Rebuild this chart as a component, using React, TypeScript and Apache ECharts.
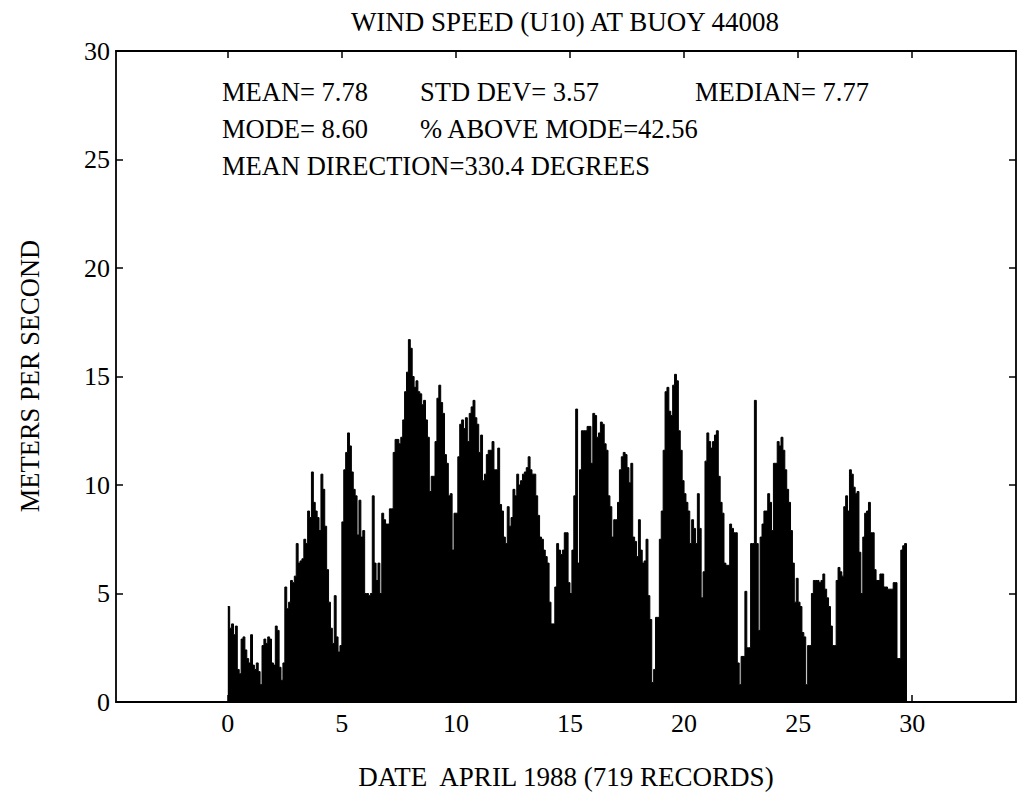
import React, { useEffect, useRef } from "react";
import * as echarts from "echarts";

// Wind speed (m/s), one value per 2 hours
const DAYS_00_04 = [
  4.4, 3.4, 3.6, 3.1, 3.5, 1.5, 1.3, 2.9, 3.0, 2.4, 2.0, 1.8,
  3.1, 1.7, 1.5, 1.8, 1.4, 0.8, 2.6, 2.9, 2.7, 3.0, 2.9, 1.8,
  1.7, 3.5, 3.3, 1.6, 1.0, 1.8, 5.3, 4.3, 4.6, 5.6, 5.5, 5.8,
  7.3, 6.4, 6.5, 6.6, 7.5, 7.3, 8.8, 8.5, 10.6, 9.2, 8.8, 8.5,
  7.9, 10.5, 9.8, 8.1, 6.1, 4.6, 3.4, 2.7, 4.9, 3.0, 2.3, 2.6,
];
const DAYS_05_09 = [
  8.3, 10.7, 11.5, 12.4, 11.8, 10.6, 9.8, 9.5, 7.7, 9.3, 7.6, 7.9,
  5.0, 5.0, 4.9, 5.0, 9.5, 6.4, 5.6, 6.4, 5.0, 8.7, 8.4, 8.2,
  8.2, 8.9, 8.9, 11.5, 12.1, 12.1, 11.9, 12.2, 13.0, 14.3, 15.2, 16.7,
  16.3, 15.0, 14.5, 14.8, 14.3, 14.2, 13.7, 13.9, 13.0, 12.2, 9.7, 10.4,
  10.4, 12.0, 14.0, 14.6, 13.8, 13.3, 11.4, 11.0, 9.5, 9.6, 7.0, 8.7,
];
const DAYS_10_14 = [
  8.7, 11.3, 12.8, 13.0, 12.6, 13.1, 12.0, 13.3, 13.6, 13.9, 13.1, 12.8,
  11.5, 12.3, 10.2, 10.5, 11.4, 11.6, 11.6, 12.0, 10.7, 10.7, 11.7, 9.1,
  8.8, 7.6, 7.3, 9.0, 8.1, 8.5, 9.8, 9.5, 10.5, 10.0, 10.2, 10.5,
  10.6, 10.8, 11.3, 10.7, 10.5, 10.5, 9.5, 8.6, 7.6, 7.5, 7.0, 6.7,
  6.4, 4.6, 3.6, 3.6, 5.3, 7.3, 7.0, 6.8, 7.0, 7.8, 7.8, 5.5,
];
const DAYS_15_19 = [
  5.0, 7.0, 9.5, 13.5, 6.4, 10.7, 12.5, 12.5, 12.5, 12.7, 12.7, 11.0,
  13.3, 13.2, 12.2, 12.4, 12.9, 12.8, 11.9, 11.6, 9.5, 9.0, 7.6, 8.4,
  8.4, 9.2, 10.7, 11.3, 11.5, 11.4, 10.8, 10.1, 11.0, 7.6, 7.4, 6.7,
  8.4, 7.0, 6.4, 6.5, 7.5, 4.9, 3.8, 0.9, 1.5, 3.9, 3.9, 7.5,
  8.8, 11.6, 14.3, 14.5, 13.4, 13.2, 14.6, 15.1, 14.8, 12.5, 11.6, 10.2,
];
const DAYS_20_24 = [
  9.6, 9.2, 8.8, 7.3, 8.4, 8.0, 7.3, 9.6, 8.0, 4.8, 6.0, 11.1,
  12.4, 12.0, 11.7, 12.0, 12.3, 12.5, 10.4, 9.2, 8.7, 6.4, 6.3, 6.3,
  8.2, 8.0, 7.8, 7.8, 1.8, 0.8, 2.1, 2.1, 5.1, 2.5, 2.5, 7.3,
  7.3, 13.9, 7.3, 3.3, 7.6, 8.2, 8.8, 8.8, 9.6, 9.2, 7.9, 11.0,
  11.0, 12.0, 11.8, 12.2, 11.6, 10.7, 9.8, 9.2, 7.9, 6.4, 4.6, 5.7,
];
const DAYS_25_29 = [
  4.6, 4.4, 3.2, 3.0, 0.8, 2.6, 2.6, 5.0, 5.6, 5.6, 5.6, 5.5,
  5.6, 5.9, 5.2, 4.8, 4.4, 3.5, 2.6, 2.6, 5.6, 6.2, 6.0, 5.8,
  9.0, 9.5, 8.8, 10.7, 10.5, 9.9, 9.6, 9.7, 6.9, 5.0, 7.6, 8.7,
  8.8, 9.2, 7.8, 7.8, 6.1, 5.6, 5.6, 5.9, 5.9, 5.3, 5.3, 5.2,
  5.2, 5.2, 5.5, 5.5, 2.0, 2.0, 7.0, 7.2, 7.3,
];
const RECORDS_PER_DAY = 12;
const X_TICKS = [0, 5, 10, 15, 20, 25, 30];

const TITLE = "WIND SPEED (U10) AT BUOY 44008";
const X_NAME = "DATE  APRIL 1988 (719 RECORDS)";
const Y_NAME = "METERS PER SECOND";
const STATS_ROW1 = ["MEAN= 7.78", "STD DEV= 3.57", "MEDIAN= 7.77"];
const STATS_ROW2 = ["MODE= 8.60", "% ABOVE MODE=42.56"];
const STATS_ROW3 = ["MEAN DIRECTION=330.4 DEGREES"];

const FONT = "'Liberation Serif', 'Times New Roman', serif";
const FS_TICK = 26;
const FS_STATS = 26.5;
const FS_TITLE = 27;

export default function App() {
  const ref = useRef<HTMLDivElement>(null);
  useEffect(() => {
    if (!ref.current) return;
    const chart = echarts.init(ref.current, undefined, { renderer: "svg" });
    const values = [
      ...DAYS_00_04,
      ...DAYS_05_09,
      ...DAYS_10_14,
      ...DAYS_15_19,
      ...DAYS_20_24,
      ...DAYS_25_29,
    ];
    const pts: number[][] = values.map((v, i) => [i / RECORDS_PER_DAY, v]);
    pts.push([values.length / RECORDS_PER_DAY, 0]);

    const txt = (x: number, y: number, s: string, fs: number, align = "left") => ({
      type: "text",
      x,
      y,
      style: {
        text: s,
        font: `${fs}px ${FONT}`,
        fill: "#000",
        align,
        verticalAlign: "middle",
      },
    });

    const tickStyle = { lineStyle: { color: "#000", width: 1.5 } };
    const lineStyle = { lineStyle: { color: "#000", width: 1.8 } };

    chart.setOption({
      animation: false,
      backgroundColor: "#fff",
      grid: { left: 116, right: 8, top: 51, bottom: 93, containLabel: false },
      xAxis: [
        {
          type: "value",
          position: "bottom",
          min: -4.9,
          max: 34.55,
          axisLine: { show: true, onZero: false, ...lineStyle },
          axisTick: { show: true, inside: true, length: 7, customValues: X_TICKS, ...tickStyle },
          axisLabel: {
            show: true,
            customValues: X_TICKS,
            margin: 8,
            color: "#000",
            fontFamily: FONT,
            fontSize: FS_TICK,
          },
          splitLine: { show: false },
        },
        {
          type: "value",
          position: "top",
          min: -4.9,
          max: 34.55,
          axisLine: { show: true, onZero: false, ...lineStyle },
          axisTick: { show: true, inside: true, length: 7, customValues: X_TICKS, ...tickStyle },
          axisLabel: { show: false },
          splitLine: { show: false },
        },
      ],
      yAxis: [
        {
          type: "value",
          position: "left",
          min: 0,
          max: 30,
          interval: 5,
          axisLine: { show: true, onZero: false, ...lineStyle },
          axisTick: { show: true, inside: true, length: 7, ...tickStyle },
          axisLabel: { margin: 6, color: "#000", fontFamily: FONT, fontSize: FS_TICK },
          splitLine: { show: false },
        },
        {
          type: "value",
          position: "right",
          min: 0,
          max: 30,
          interval: 5,
          axisLine: { show: true, onZero: false, ...lineStyle },
          axisTick: { show: true, inside: true, length: 7, ...tickStyle },
          axisLabel: { show: false },
          splitLine: { show: false },
        },
      ],
      series: [
        {
          type: "line",
          xAxisIndex: 0,
          yAxisIndex: 0,
          step: "end",
          data: pts,
          symbol: "none",
          lineStyle: { color: "#000", width: 1 },
          areaStyle: { color: "#000", opacity: 1 },
          z: 1,
        },
      ],
      graphic: [
        txt(565, 22, TITLE, FS_TITLE, "center"),
        txt(566, 777, X_NAME, FS_TITLE, "center"),
        {
          type: "text",
          x: 30,
          y: 376,
          rotation: Math.PI / 2,
          style: {
            text: Y_NAME,
            font: `${FS_STATS}px ${FONT}`,
            fill: "#000",
            align: "center",
            verticalAlign: "middle",
          },
        },
        txt(222, 92, STATS_ROW1[0], FS_STATS),
        txt(420, 92, STATS_ROW1[1], FS_STATS),
        txt(695, 92, STATS_ROW1[2], FS_STATS),
        txt(222, 129, STATS_ROW2[0], FS_STATS),
        txt(420, 129, STATS_ROW2[1], FS_STATS),
        txt(222, 166, STATS_ROW3[0], FS_STATS),
      ],
    });
    return () => chart.dispose();
  }, []);
  return (
    <div
      ref={ref}
      style={{ position: "fixed", left: 0, top: 0, width: 1024, height: 795, background: "#fff" }}
    />
  );
}
